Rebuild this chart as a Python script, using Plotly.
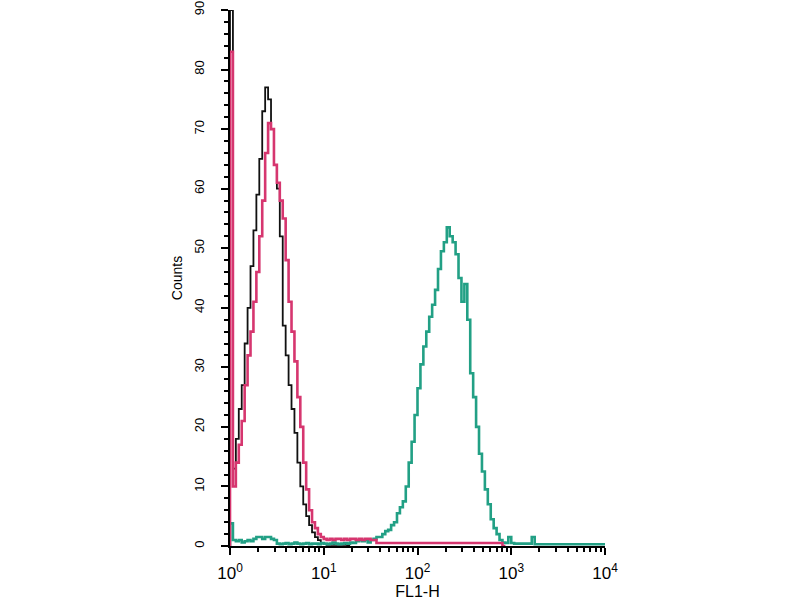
import numpy as np
import plotly.graph_objects as go

# Histogram bins: 32 bins per decade on the FL1-H log axis, starting at 10^0
bins_per_decade = 32

# Control (black)
black_counts = [90, 13, 18, 23, 27, 34, 40, 47, 53, 59, 65, 73, 77, 75, 70, 64, 60, 52,
                37, 32, 27, 23, 19, 14, 10, 7, 5, 3.5, 2.3, 1.5, 1, 0.5, 0.3, 0.2,
                0.2, 0.2, 0.2, 0.2, 0.2, 0.2, 0]

# Isotype / unstained (pink)
pink_counts = [83, 10, 14, 17, 21, 27, 32, 36, 41, 46, 52, 58, 66, 71, 70, 64, 61, 58,
               55, 48, 41, 36, 31, 25, 20, 14, 9.5, 6, 4, 3, 2, 1.5,
               1.2, 1.0, 1.2, 1.0, 1.2, 1.2, 1.0, 1.2, 1.0, 1.2, 1.2, 1.0, 1.2, 1.0,
               1.2, 1.2, 1.0, 1.0,
               0.5, 0.5, 0.5, 0.5, 0.5, 0.5, 0.5, 0.5, 0.5, 0.5, 0.5, 0.5, 0.5, 0.5,
               0.5, 0.5, 0.5, 0.5, 0.5, 0.5, 0.5, 0.5, 0.5, 0.5, 0.5, 0.5, 0.5, 0.5,
               0.5, 0.5, 0.5, 0.5, 0.5, 0.5, 0.5, 0.5, 0.5, 0.5, 0.5, 0.5, 0.5, 0.5,
               0.5, 0]

# Antibody stained (teal)
teal_counts = [3.8, 1, 0.8, 1, 0.6, 0.8, 1, 0.8, 1.2, 1.5, 1.5, 1.2, 1.5, 1.5, 1.2, 1,
               0.4, 0.3, 0.4, 0.5, 0.3, 0.4, 0.6, 0.4, 0.3, 0.4, 0.5, 0.3, 0.4, 0.4,
               0.3, 0.5, 0.4, 0.3, 0.4, 0.6, 0.4, 0.3, 0.4, 0.5, 0.4, 0.6, 0.5, 0.8,
               1, 0.8, 1, 0.6, 1, 1.2, 1.5, 1.5, 2, 2.5, 2.7, 3.5, 4, 5.5, 6.5, 7.5,
               10, 14, 17.5, 22, 26.5, 30.5, 33.5, 36, 38.5, 40.5, 43, 46.5, 49.5, 51,
               53.5, 52, 51, 49, 45, 41, 44, 38, 29, 25, 20, 15.5, 12.5, 9.5, 7, 4.5,
               3, 2, 1, 0.6, 0.5, 1.5, 0.5, 0.4, 0.4, 0.4, 0.4, 0.4, 0.4, 1.5,
               0.3, 0.3, 0.3, 0.3, 0.3, 0.3, 0.3, 0.3, 0.3, 0.3, 0.3, 0.3, 0.3, 0.3,
               0.3, 0.3, 0.3, 0.3, 0.3, 0.3, 0.3, 0.3, 0.3, 0.3]

x_tick_vals = [1, 10, 100, 1000, 10000]
x_tick_text = ["10<sup>0</sup>", "10<sup>1</sup>", "10<sup>2</sup>", "10<sup>3</sup>", "10<sup>4</sup>"]
y_tick_vals = [0, 10, 20, 30, 40, 50, 60, 70, 80, 90]


def step_xy(counts):
    n = len(counts)
    edges = 10 ** (np.arange(n + 1) / bins_per_decade)
    xs = [1.0] + list(edges)
    ys = [0] + list(counts) + [counts[-1]]
    return xs, ys


fig = go.Figure()
for counts, color, width in [(black_counts, "#111111", 1.8),
                             (teal_counts, "#22a085", 2.6),
                             (pink_counts, "#d6366f", 2.6)]:
    xs, ys = step_xy(counts)
    fig.add_trace(go.Scatter(x=xs, y=ys, mode="lines", line_shape="hv",
                             line=dict(color=color, width=width),
                             showlegend=False, hoverinfo="skip"))

minor_x = [m * 10 ** d for d in range(4) for m in range(2, 10)]
minor_y = [v for v in range(0, 91, 2) if v % 10 != 0]

fig.update_layout(
    width=800, height=600,
    margin=dict(l=230, r=195, t=10, b=54, pad=0),
    paper_bgcolor="white", plot_bgcolor="white",
    font=dict(family="Liberation Sans, Arial, sans-serif", color="black"),
    xaxis=dict(type="log", range=[0, 4], showgrid=False, zeroline=False,
               automargin=False,
               showline=True, linecolor="black", linewidth=2,
               tickmode="array", tickvals=x_tick_vals, ticktext=x_tick_text,
               ticks="outside", ticklen=7, tickwidth=2, tickcolor="black",
               tickfont=dict(size=17), ticklabelstandoff=4,
               minor=dict(tickmode="array", tickvals=minor_x, ticks="outside",
                          ticklen=4, tickwidth=2, tickcolor="black", showgrid=False),
               title=dict(text="FL1-H", font=dict(size=16), standoff=0),
               layer="below traces"),
    yaxis=dict(range=[0, 90], showgrid=False, zeroline=False,
               automargin=False,
               showline=True, linecolor="black", linewidth=2,
               tickmode="array", tickvals=y_tick_vals, tickangle=-90,
               ticks="outside", ticklen=7, tickwidth=2, tickcolor="black",
               tickfont=dict(size=13), ticklabelstandoff=12,
               minor=dict(tickmode="array", tickvals=minor_y, ticks="outside",
                          ticklen=4, tickwidth=2, tickcolor="black", showgrid=False),
               title=dict(text="Counts", font=dict(size=14), standoff=6),
               layer="below traces"),
)

fig.write_html("out.html", config={"displayModeBar": False},
               post_script="document.body.style.margin='0px';")
